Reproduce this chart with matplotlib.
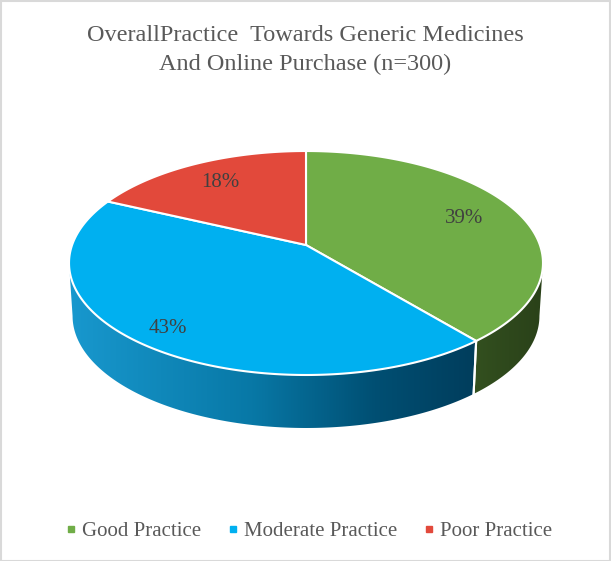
import numpy as np
import matplotlib
matplotlib.use("Agg")
import matplotlib.pyplot as plt
from matplotlib.patches import Polygon, Rectangle
from matplotlib.colors import LinearSegmentedColormap
from matplotlib.lines import Line2D

# ---- data ----
categories = ["Good Practice", "Moderate Practice", "Poor Practice"]
values = [39, 43, 18]
labels = ["39%", "43%", "18%"]
title_lines = ["OverallPractice  Towards Generic Medicines", "And Online Purchase (n=300)"]

# ---- style ----
top_colors = ["#70AD47", "#00B0F0", "#E2493B"]
side_cmaps = [
    LinearSegmentedColormap.from_list("g", ["#33501F", "#2E481C", "#2A4119"]),
    LinearSegmentedColormap.from_list("b", [(0, "#1898CE"), (0.45, "#0878A6"),
                                            (0.75, "#004F73"), (1.0, "#003D5C")]),
    LinearSegmentedColormap.from_list("r", ["#8A2A20", "#6A1F18"]),
]
label_r = [0.75, 0.86, 0.75]
serif = ["Liberation Serif", "DejaVu Serif"]

W, H = 611, 561
fig = plt.figure(figsize=(W / 100, H / 100), dpi=100)
ax = fig.add_axes([0, 0, 1, 1])
ax.set_xlim(0, W)
ax.set_ylim(H, 0)
ax.axis("off")

# geometry (perspective ellipse)
cx, cy = 306.0, 245.0
A, B, g = 233.9, 109.1, 0.1607
depth, bscale = 53.0, 0.985


def proj(theta, r=1.0, bottom=False):
    t = np.radians(theta)
    x = r * np.cos(t)
    z = r * np.sin(t)
    w = 1 + g * z
    X = cx + A * x / w
    Y = cy - B * z / w
    if bottom:
        X = cx + (X - cx) * bscale
        Y = Y + depth
    return X, Y


total = float(sum(values))
fracs = np.array(values) / total
ends = 90 - 360 * np.cumsum(fracs)
starts = np.concatenate([[90], ends[:-1]])

vis_lo = -180 + np.degrees(np.arcsin(g))
vis_hi = -np.degrees(np.arcsin(g))

# sides
for i in range(len(values)):
    a1, a2 = starts[i], ends[i]
    hi = min(a1, vis_hi)
    lo = max(a2, vis_lo)
    if hi <= lo:
        continue
    th = np.linspace(hi, lo, 200)
    tx, ty = proj(th)
    bx, by = proj(th[::-1], bottom=True)
    pts = np.column_stack([np.concatenate([tx, bx]), np.concatenate([ty, by])])
    poly = Polygon(pts, closed=True, facecolor="none", edgecolor="none")
    ax.add_patch(poly)
    x0, x1 = pts[:, 0].min(), pts[:, 0].max()
    y0, y1 = pts[:, 1].min(), pts[:, 1].max()
    grad = np.linspace(0, 1, 256).reshape(1, -1)
    im = ax.imshow(grad, cmap=side_cmaps[i], extent=[x0, x1, y1, y0],
                   aspect="auto", zorder=1, interpolation="bilinear")
    im.set_clip_path(poly)
    for b in (a1, a2):
        if vis_lo < b < vis_hi:
            X1, Y1 = proj(b)
            X2, Y2 = proj(b, bottom=True)
            ax.plot([X1, X2], [Y1, Y2], color="white", lw=1.5, zorder=2)

# top faces
for i in range(len(values)):
    th = np.linspace(starts[i], ends[i], 300)
    tx, ty = proj(th)
    pts = np.column_stack([np.concatenate([[cx], tx]), np.concatenate([[cy], ty])])
    ax.add_patch(Polygon(pts, closed=True, facecolor=top_colors[i],
                         edgecolor="white", lw=1.5, joinstyle="round", zorder=3))

# labels
for i in range(len(values)):
    mid = (starts[i] + ends[i]) / 2
    X, Y = proj(mid, r=label_r[i])
    ax.text(X, Y, labels[i], ha="center", va="center", fontsize=15,
            family=serif, color="#404040", zorder=5)

# title (two lines)
for line, yb in zip(title_lines, [40.5, 70.0]):
    ax.text(W / 2, yb, line, ha="center", va="baseline", fontsize=17.5,
            family=serif, color="#595959")

# legend
handles = [Line2D([0], [0], marker="s", color="none", markerfacecolor=c,
                  markeredgecolor=c, markersize=4.5) for c in top_colors]
leg = fig.legend(handles, categories, loc="center",
                 bbox_to_anchor=(0.5 + 3.5 / W, 1 - 531 / H),
                 ncol=3, frameon=False, handlelength=0.5, handletextpad=0.25,
                 columnspacing=1.3, prop={"family": serif, "size": 15})
for t in leg.get_texts():
    t.set_color("#595959")

# border
fig.add_artist(Rectangle((0.5 / W, 0.5 / H), 1 - 1.5 / W, 1 - 1.5 / H,
                         transform=fig.transFigure, fill=False,
                         edgecolor="#D9D9D9", lw=1.5))

fig.savefig("out.png", dpi=100)
